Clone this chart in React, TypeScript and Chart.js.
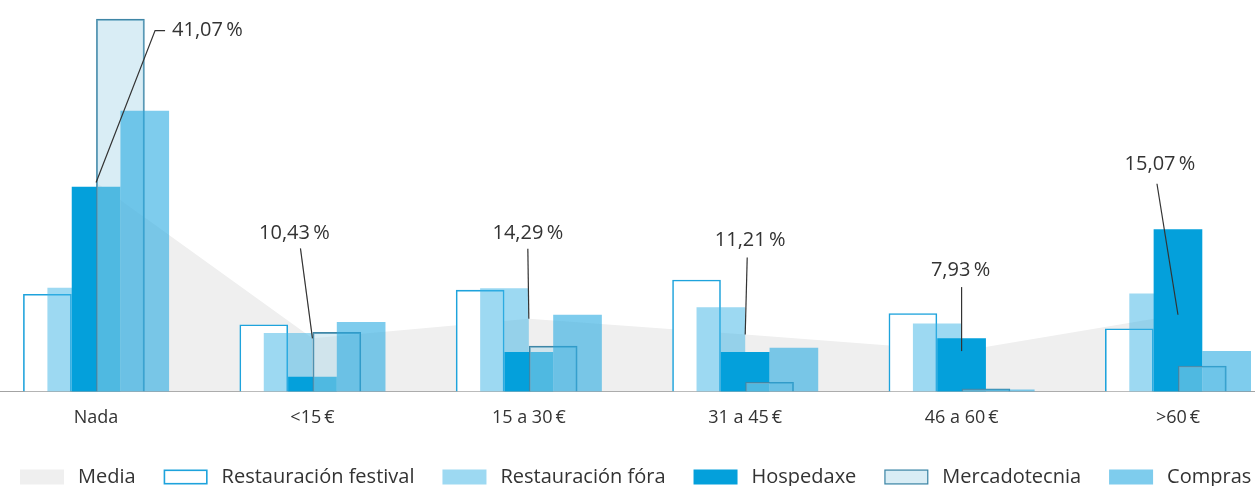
import React, { useEffect, useRef } from 'react';
import { Chart, registerables } from 'chart.js';

Chart.register(...registerables);

// ---- data ----
const categories = ['Nada', '<15\u2009€', '15 a 30\u2009€', '31 a 45\u2009€', '46 a 60\u2009€', '>60\u2009€'];
const media = [41.07, 10.43, 14.29, 11.21, 7.93, 15.07];
const restauracionFestival = [19.1, 13.1, 19.9, 21.9, 15.3, 12.3];
const restauracionFora = [20.3, 11.4, 20.2, 16.5, 13.3, 19.2];
const hospedaxe = [40.2, 2.8, 7.7, 7.7, 10.4, 31.8];
const mercadotecnia = [73.2, 11.6, 8.9, 1.8, 0.5, 5.0];
const compras = [55.1, 13.6, 15.0, 8.5, 0.3, 7.9];
const seriesNames = ['Media', 'Restauración festival', 'Restauración fóra', 'Hospedaxe', 'Mercadotecnia', 'Compras'];

// ---- layout / style (not data) ----
const BAR_STEP = 0.1125; // offset between overlapping bars, in category units
const FONT = '"Open Sans", "DejaVu Sans", sans-serif';
const TEXT_COLOR = '#333333';
// label placement relative to the media point (pixels)
const labelLayout = [
  { tx: 76, ty: -152, align: 'left', lx: 59, ly: -152, hook: 10 },
  { tx: -18, ty: -105, align: 'center', lx: -12, ly: -90, hook: 0 },
  { tx: -1, ty: -85, align: 'center', lx: -1, ly: -70, hook: 0 },
  { tx: 5, ty: -94, align: 'center', lx: 2, ly: -77, hook: 0 },
  { tx: -1, ty: -81, align: 'center', lx: 0, ly: -64, hook: 0 },
  { tx: -18, ty: -150, align: 'center', lx: -21, ly: -131, hook: 0 },
];
const LEGEND = { left: 20, fromBottom: 9, box: 44, boxH: 15, gap: 14, itemGap: 28, fontSize: 20 };

const fmtPct = (v: number) => v.toFixed(2).replace('.', ',') + '\u2009%';

const barData = (vals: number[], k: number) =>
  vals.map((v, i) => ({ x: i + (k - 2) * BAR_STEP, y: v }));

const mediaLabelsPlugin = {
  id: 'mediaLabels',
  afterDatasetsDraw(chart: any) {
    const { ctx } = chart;
    const xs = chart.scales.x;
    const ys = chart.scales.y;
    ctx.save();
    ctx.font = `20px ${FONT}`;
    ctx.fillStyle = TEXT_COLOR;
    ctx.strokeStyle = TEXT_COLOR;
    ctx.lineWidth = 1.2;
    ctx.textBaseline = 'middle';
    media.forEach((v, i) => {
      const px = xs.getPixelForValue(i);
      const py = ys.getPixelForValue(v);
      const L = labelLayout[i];
      ctx.beginPath();
      ctx.moveTo(px, py);
      ctx.lineTo(px + L.lx, py + L.ly);
      if (L.hook) ctx.lineTo(px + L.lx + L.hook, py + L.ly);
      ctx.stroke();
      ctx.textAlign = L.align as CanvasTextAlign;
      ctx.fillText(fmtPct(v), px + L.tx, py + L.ty);
    });
    ctx.restore();
  },
};

const legendPlugin = {
  id: 'customLegend',
  afterDraw(chart: any) {
    const { ctx } = chart;
    ctx.save();
    ctx.font = `${LEGEND.fontSize}px ${FONT}`;
    ctx.textBaseline = 'middle';
    ctx.textAlign = 'left';
    const y = chart.height - LEGEND.fromBottom;
    let x = LEGEND.left;
    chart.data.datasets.forEach((ds: any) => {
      const w = LEGEND.box;
      const h = LEGEND.boxH;
      ctx.fillStyle = ds.backgroundColor;
      ctx.fillRect(x, y - h / 2, w, h);
      const bw = ds.type === 'line' ? 0 : ds.borderWidth || 0;
      if (bw > 0) {
        ctx.lineWidth = bw;
        ctx.strokeStyle = ds.borderColor;
        ctx.strokeRect(x + bw / 2, y - h / 2 + bw / 2, w - bw, h - bw);
      }
      x += w + LEGEND.gap;
      ctx.fillStyle = TEXT_COLOR;
      ctx.fillText(ds.label, x, y);
      x += ctx.measureText(ds.label).width + LEGEND.itemGap;
    });
    ctx.restore();
  },
};

export default function App() {
  const ref = useRef<HTMLCanvasElement | null>(null);

  useEffect(() => {
    if (!ref.current) return;
    const chart = new Chart(ref.current, {
      type: 'bar',
      data: {
        datasets: [
          {
            type: 'line',
            label: seriesNames[0],
            data: media.map((v, i) => ({ x: i, y: v })),
            fill: 'origin',
            backgroundColor: '#efefef',
            borderColor: 'rgba(0,0,0,0)',
            borderWidth: 0,
            pointRadius: 0,
            pointHoverRadius: 0,
            tension: 0,
            order: 10,
          } as any,
          {
            label: seriesNames[1],
            data: barData(restauracionFestival, 0),
            backgroundColor: '#ffffff',
            borderColor: '#1ea3dc',
            borderWidth: 1.6,
            order: 5,
          },
          {
            label: seriesNames[2],
            data: barData(restauracionFora, 1),
            backgroundColor: 'rgba(60,180,230,0.5)',
            borderWidth: 0,
            order: 4,
          },
          {
            label: seriesNames[3],
            data: barData(hospedaxe, 2),
            backgroundColor: '#04a0db',
            borderWidth: 0,
            order: 3,
          },
          {
            label: seriesNames[4],
            data: barData(mercadotecnia, 3),
            backgroundColor: 'rgba(170,215,232,0.45)',
            borderColor: '#3f86a6',
            borderWidth: 1.2,
            order: 2,
          },
          {
            label: seriesNames[5],
            data: barData(compras, 4),
            backgroundColor: 'rgba(40,170,225,0.6)',
            borderWidth: 0,
            order: 1,
          },
        ],
      },
      options: {
        animation: false,
        responsive: true,
        maintainAspectRatio: false,
        layout: { autoPadding: false, padding: { top: 10, left: 0, right: 0, bottom: 49 } },
        datasets: { bar: { grouped: false, barThickness: 48 } },
        scales: {
          x: {
            type: 'linear',
            min: -0.444,
            max: 5.356,
            offset: false,
            grid: { display: false },
            border: { display: true, color: '#a3a3a3', width: 1 },
            ticks: {
              stepSize: 1,
              includeBounds: false,
              autoSkip: false,
              maxRotation: 0,
              padding: 8,
              color: TEXT_COLOR,
              font: { family: FONT, size: 18 },
              callback: (v: any) => (Number.isInteger(v) && categories[v] !== undefined ? categories[v] : ''),
            },
          },
          y: {
            display: false,
            min: 0,
            max: 75,
          },
        },
        plugins: {
          tooltip: { enabled: false },
          legend: { display: false },
        },
      },
      plugins: [mediaLabelsPlugin, legendPlugin],
    });
    return () => chart.destroy();
  }, []);

  return (
    <div style={{ position: 'fixed', left: 0, top: 0, width: 1255, height: 486, background: '#ffffff' }}>
      <canvas ref={ref} />
    </div>
  );
}
